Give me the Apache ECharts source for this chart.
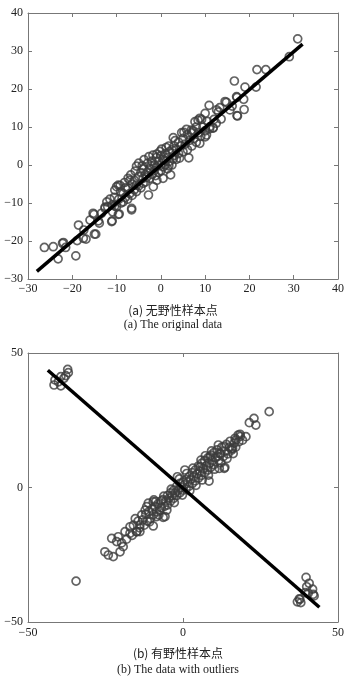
<!DOCTYPE html>
<html>
<head>
<meta charset="utf-8">
<script src="https://cdn.jsdelivr.net/npm/echarts@6/dist/echarts.min.js"></script>
<style>
  html, body { margin: 0; padding: 0; background: #fff; }
  #chart { width: 351px; height: 681px; }
</style>
</head>
<body>
<div id="chart"></div>
<script>
// (a) original data: sample points
const originalPoints = [
  [30.9,33.2],[29.0,28.5],[21.7,25.1],[23.7,25.1],[16.6,22.1],[19.0,20.5],[21.5,20.5],[17.2,17.8],[18.7,17.3],
  [18.8,14.6],[17.2,13.0],[14.8,16.5],[16.1,15.5],[10.9,15.7],[13.3,15.1],[15.6,14.5],[13.6,12.1],[11.8,9.8],
  [10.3,7.9],[6.3,1.9],[8.4,11.8],[9.2,12.0],[7.3,9.0],[5.8,9.4],[4.7,8.5],[2.8,7.2],[1.8,5.0],[-0.9,2.9],
  [-2.7,2.2],[-5.5,-0.3],[-5.0,0.5],[-7.4,-3.5],[8.8,5.7],[11.1,10.1],[17.1,18.0],[17.3,12.9],[14.5,16.7],
  [12.6,14.5],[10.0,13.6],[8.8,12.3],[7.7,11.4],[11.8,9.7],[10.0,7.4],[6.9,9.2],
  [-26.3,-21.7],[-24.3,-21.5],[-22.2,-20.6],[-21.5,-21.7],[-23.2,-24.7],[-19.2,-23.9],[-18.9,-19.9],[-16.9,-19.5],
  [-18.6,-15.8],[-17.4,-17.1],[-14.7,-18.2],[-15.1,-13.0],[-13.9,-15.3],[-14.1,-14.7],[-12.6,-11.1],[-11.0,-14.7],
  [-12.2,-9.7],[-10.9,-12.3],[-9.4,-12.9],[-10.0,-5.7],[-9.1,-7.0],[-7.4,-6.1],[-6.6,-11.4],[-10.4,-10.8],
  [-8.5,-9.7],[-7.0,-4.0],[-5.5,-5.3],[-2.8,-7.9],[-0.9,-4.0],[0.5,-3.5],[2.2,-2.6],[-1.7,-5.7],[-4.0,-4.8],
  [-22.0,-20.4],[-17.5,-19.3],[-15.0,-18.2],[-15.3,-12.7],[-11.1,-14.9],[-9.6,-13.0],[-6.6,-11.8],[-9.6,-5.3],
  [-10.4,-6.6],[-12.6,-11.4],[-16.0,-14.5],[-13.4,-12.7],
  [-12,-11],[-11.5,-9],[-11,-10.5],[-10.5,-8.5],[-10,-11],[-9.5,-9],[-9,-10],[-8.5,-7.5],[-8,-8.5],[-8,-6],
  [-7.5,-9],[-7,-7.5],[-6.5,-5],[-6.5,-8],[-6,-6.5],[-6,-4],[-5.5,-7],[-5,-3],[-5,-5.5],[-4.5,-2],[-4.5,-6],
  [-4,-3.5],[-4,-1],[-3.5,-4.5],[-3.5,-2.5],[-3,0.5],[-3,-2],[-2.5,-3.5],[-2.5,-1],[-2,1],[-2,-2.5],[-1.5,0],
  [-1.5,-1.5],[-1,2],[-1,-0.5],[-0.5,-2],[-0.5,1],[0,0],[0,2.5],[0,-1.5],[0.5,1.5],[0.5,-0.5],[1,3],[1,0],
  [1.5,2],[1.5,-1],[2,3.5],[2,1],[2.5,0],[2.5,4],[3,2.5],[3,5],[3.5,1.5],[3.5,4],[4,3],[4,6],[4.5,5],[5,3.5],
  [5,7],[5.5,5.5],[6,4],[6,8],[6.5,6.5],[7,5],[7,8.5],[7.5,7],[8,10],[8,6],[8.5,8.5],[9,7.5],[9.5,10],[10,9],
  [10.5,11.5],[11,9.5],[12,12],[12.5,11],[13,14],
  [-4.2,-0.2],[-3.2,-3.2],[-2.2,-0.2],[-1.2,-2.8],[-0.2,3.6],[0.8,1.2],[1.8,-0.2],[2.8,1.6],[-6.8,-2.6],
  [-5.8,-1.6],[-3.8,1.4],[-1.8,2.6],[0.2,4.2],[1.2,4.6],[3.2,6.4],[4.2,1.8],[-8.2,-4.6],[-9.2,-5.4],[5.2,8.6]
];
const originalFit = [[-28, -28], [32, 31.8]];

// (b) data with outliers
const outlierPoints = [
  // upper-left group
  [-37.2,43.9],[-37.0,42.7],[-37.8,41.6],[-39.4,41.2],[-41.3,40.0],[-41.6,38.1],[-39.4,37.8],[-40.2,39.3],[-38.4,40.6],
  // lone point
  [-34.5,-34.8],
  // lower-right group
  [39.7,-33.4],[40.7,-35.6],[39.9,-36.9],[41.8,-37.8],[42.0,-39.7],[40.4,-39.3],[37.7,-41.6],[36.9,-42.5],
  [38.0,-42.8],[37.5,-41.4],[42.3,-40.3],[39.4,-39.1]
];
const clusterPoints = [
  [27.8,28.2],[22.9,25.7],[21.4,24.1],[23.5,23.2],[20.3,18.9],[18.4,19.8],[17.8,19.5],[16.8,18.3],[17.1,17.7],
  [15.7,14.6],[15.7,13.9],[13.5,7.5],[13.3,7.1],[11.7,7.1],[11.4,15.8],[11.9,12.7],[8.4,2.4],[-1.8,4.0],
  [0.6,6.5],[5.5,7.7],[8.7,11.4],
  [-11.7,-7.1],[-9.6,-5.3],[-9.4,-4.6],[-13.9,-16.4],[-9.6,-14.3],[-6.4,-11.1],[-24.1,-25.1],[-25.2,-23.9],
  [-22.5,-25.7],[-20.3,-23.9],[-19.3,-22.0],[-23.0,-18.9],[-20.9,-18.3],[-21.4,-20.1],[-18.7,-16.4],[-17.1,-14.6],
  [-14.9,-16.4],[-13.9,-13.9],[-17.1,-17.0],[-13.3,-10.2],[-8.5,-10.8],[-5.8,-10.8],
  [-16,-14],[-15,-16.5],[-14.5,-12.5],[-14,-15],[-13,-12],[-12.5,-14],[-12,-10],[-11.5,-12.5],[-11,-9],
  [-10.5,-11.5],[-10,-8],[-9.5,-10],[-9,-7],[-8.5,-9],[-8,-6],[-7.5,-8.5],[-7,-5],[-7,-7.5],[-6.5,-4.5],[-6,-7],
  [-5.5,-5],[-5,-3],[-5,-6.5],[-4.5,-4],[-4,-2],[-4,-5],[-3.5,-3],[-3,-1],[-3,-4],[-2.5,-2],[-2,0.5],[-2,-3],
  [-1.5,-1],[-1,1.5],[-1,-2],[-0.5,0],[0,2],[0,-1],[0.5,1],[1,3],[1,-0.5],[1.5,2],[2,4],[2,0.5],[2.5,3],[3,5.5],
  [3,1.5],[3.5,4],[4,6.5],[4,2.5],[4.5,5],[5,3.5],[5,8],[5.5,6],[6,9],[6,4.5],[6.5,7],[7,10],[7,5.5],[7.5,8],
  [8,11],[8,6.5],[8.5,9],[9,12],[9,7.5],[9.5,10],[10,13],[10,8.5],[10.5,11],[11,14],[11.5,10],[12,12.5],
  [12.5,15],[13,11.5],[13.5,13.5],[14,16],[14.5,12.5],[15,15],[16,14.5],[16.5,16.5],[17,15],[18,17],[18.5,19],
  [-12.2,-8.4],[-10.8,-12.8],[-8.8,-5.2],[-7.8,-10.2],[-6.2,-3.2],[-5.2,-8.4],[-3.8,-0.6],[-2.8,-5.6],[-1.2,3.2],
  [-0.2,-2.8],[1.2,5.2],[2.2,-1.2],[3.2,7.2],[4.2,0.8],[5.8,10.2],[6.2,2.8],[7.2,11.8],[8.2,4.6],[9.2,13.6],
  [10.2,6.8],[11.2,11.6],[12.2,9.2],[13.2,15.2],[14.2,10.8],[15.2,17.2],[16.2,12.6],[19.2,17.6],[-18.2,-19.2],
  [-16.4,-17.8],[-15.4,-11.6],[-19.8,-20.6],[-11.2,-5.8]
];
const outlierFit = [[-43.6, 43.6], [44, -44.5]];

const captionsA = ['(a) 无野性样本点', '(a) The original data'];
const captionsB = ['(b) 有野性样本点', '(b) The data with outliers'];

const axisColor = '#777';
const serif = '"Liberation Serif", "DejaVu Serif", serif';

function minus(v) {
  return String(v).replace('-', '\u2212');
}

// one axis of a boxed frame; labels only on bottom / left
function axis(gridIndex, position, min, max, interval, labelMargin) {
  const showLabel = position === 'bottom' || position === 'left';
  return {
    type: 'value',
    gridIndex: gridIndex,
    position: position,
    min: min,
    max: max,
    interval: interval,
    axisLine: { show: true, onZero: false, lineStyle: { color: axisColor, width: 1 } },
    axisTick: { show: true, inside: true, length: 4, lineStyle: { color: axisColor } },
    splitLine: { show: false },
    axisLabel: {
      show: showLabel,
      margin: labelMargin,
      fontFamily: serif,
      fontSize: 12,
      color: '#222',
      formatter: minus
    }
  };
}

function scatter(data, xi, yi) {
  return {
    type: 'scatter',
    xAxisIndex: xi,
    yAxisIndex: yi,
    data: data,
    symbol: 'circle',
    symbolSize: 8,
    itemStyle: { color: 'rgba(0,0,0,0)', borderColor: '#3c3c3c', borderWidth: 1.7 },
    z: 2
  };
}

function fitLine(data, xi, yi) {
  return {
    type: 'line',
    xAxisIndex: xi,
    yAxisIndex: yi,
    data: data,
    symbol: 'none',
    lineStyle: { color: '#000', width: 3.5 },
    z: 5
  };
}

function caption(text, x, y, cjk) {
  return {
    type: 'text',
    x: x,
    y: y,
    style: {
      text: text,
      textAlign: 'center',
      textVerticalAlign: 'middle',
      fill: '#222',
      font: '12px ' + (cjk ? '"Noto Sans CJK SC", sans-serif' : serif)
    }
  };
}

const chart = echarts.init(document.getElementById('chart'));
chart.setOption({
  animation: false,
  backgroundColor: '#fff',
  grid: [
    { left: 28, top: 13, width: 310, height: 266 },
    { left: 28, top: 353, width: 310, height: 269 }
  ],
  xAxis: [
    axis(0, 'bottom', -30, 40, 10, 4),
    axis(0, 'top', -30, 40, 10, 4),
    axis(1, 'bottom', -50, 50, 50, 5),
    axis(1, 'top', -50, 50, 50, 5)
  ],
  yAxis: [
    axis(0, 'left', -30, 40, 10, 5),
    axis(0, 'right', -30, 40, 10, 5),
    axis(1, 'left', -50, 50, 50, 5),
    axis(1, 'right', -50, 50, 50, 5)
  ],
  series: [
    scatter(originalPoints, 0, 0),
    fitLine(originalFit, 0, 0),
    scatter(clusterPoints, 2, 2),
    scatter(outlierPoints, 2, 2),
    fitLine(outlierFit, 2, 2)
  ],
  graphic: [
    caption(captionsA[0], 173, 310, true),
    caption(captionsA[1], 173, 325, false),
    caption(captionsB[0], 178, 653, true),
    caption(captionsB[1], 178, 670, false)
  ]
});
</script>
</body>
</html>
